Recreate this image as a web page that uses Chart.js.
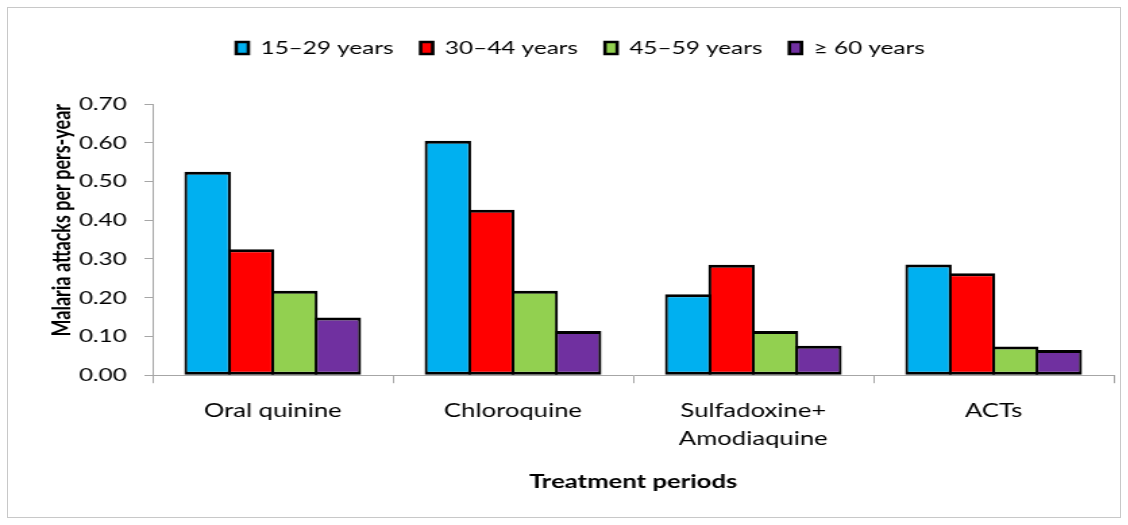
<!DOCTYPE html>
<html>
<head>
<meta charset="utf-8">
<script src="https://cdn.jsdelivr.net/npm/chart.js@4.4.1/dist/chart.umd.min.js"></script>
<style>
  html, body { margin: 0; padding: 0; background: #fff; }
  body { width: 1128px; height: 525px; position: relative; overflow: hidden; }
  #frame { position: absolute; left: 7px; top: 7px; width: 1112px; height: 509px; border: 1px solid #c8c8c8; }
  /* the source image is stretched sideways, so the chart is drawn narrow and scaled */
  #wrap { position: absolute; left: 0; top: 0; width: 836px; height: 525px; transform: scaleX(1.35); transform-origin: 0 0; }
</style>
</head>
<body>
<div id="frame"></div>
<div id="wrap"><canvas id="chart"></canvas></div>
<script>
// ---- data ----
const periods = ['Oral quinine', 'Chloroquine', ['Sulfadoxine+', 'Amodiaquine'], 'ACTs'];
const ageGroups = ['15\u201329 years', '30\u201344 years', '45\u201359 years', '\u2265 60 years'];
const age15to29 = [0.525, 0.605, 0.209, 0.286];
const age30to44 = [0.325, 0.427, 0.285, 0.263];
const age45to59 = [0.218, 0.218, 0.114, 0.074];
const age60plus = [0.149, 0.114, 0.076, 0.065];
const yTicks = [0, 0.1, 0.2, 0.3, 0.4, 0.5, 0.6, 0.7];

const colors = ['#00B0F0', '#FF0000', '#92D050', '#7030A0'];
const FONT = 'Lato, "Open Sans", sans-serif';

// push the plot area down below the legend
const legendGap = {
    id: 'legendGap',
    beforeInit(chart) {
        const origFit = chart.legend.fit;
        chart.legend.fit = function () { origFit.call(this); this.height += 37; };
    }
};

const series = [age15to29, age30to44, age45to59, age60plus];
const datasets = series.map((vals, i) => ({
    label: ageGroups[i],
    data: vals,
    backgroundColor: colors[i],
    borderColor: '#000',
    borderWidth: { top: 3, bottom: 3, left: 2.2, right: 2.2 },
    borderSkipped: false,
    barPercentage: 1.07,
    categoryPercentage: 0.723
}));

new Chart(document.getElementById('chart'), {
    type: 'bar',
    data: { labels: periods, datasets },
    plugins: [legendGap],
    options: {
        responsive: true,
        maintainAspectRatio: false,
        animation: false,
        layout: { padding: { left: 35, right: 11, top: 19, bottom: 32 } },
        plugins: {
            legend: {
                position: 'top',
                labels: {
                    color: '#000',
                    font: { family: FONT, size: 18 },
                    boxWidth: 9,
                    boxHeight: 12,
                    padding: 20
                }
            },
            tooltip: { enabled: false }
        },
        scales: {
            x: {
                grid: { display: true, drawOnChartArea: false, drawTicks: true, tickLength: 8, color: '#a6a6a6', offset: true },
                border: { color: '#a6a6a6', width: 1 },
                ticks: { color: '#000', font: { family: FONT, size: 19, lineHeight: 1.5 }, padding: 13, maxRotation: 0 },
                title: {
                    display: true,
                    text: 'Treatment periods',
                    color: '#000',
                    font: { family: FONT, size: 19, weight: 'bold' },
                    padding: { top: 4, bottom: 0 }
                }
            },
            y: {
                min: 0,
                max: 0.7,
                afterBuildTicks(axis) { axis.ticks = yTicks.map(v => ({ value: v })); },
                afterFit(axis) { axis.width = 78; },
                grid: { display: true, drawOnChartArea: false, drawTicks: true, tickLength: 6, color: '#a6a6a6' },
                border: { color: '#a6a6a6', width: 1 },
                ticks: {
                    color: '#000',
                    font: { family: FONT, size: 18 },
                    padding: 13,
                    callback: v => Number(v).toFixed(2)
                },
                title: {
                    display: true,
                    align: 'end',
                    text: 'Malaria attacks per pers-year',
                    color: '#000',
                    font: { family: FONT, size: 18, weight: 'bold' },
                    padding: { top: 0, bottom: 4 }
                }
            }
        }
    }
});
</script>
</body>
</html>
